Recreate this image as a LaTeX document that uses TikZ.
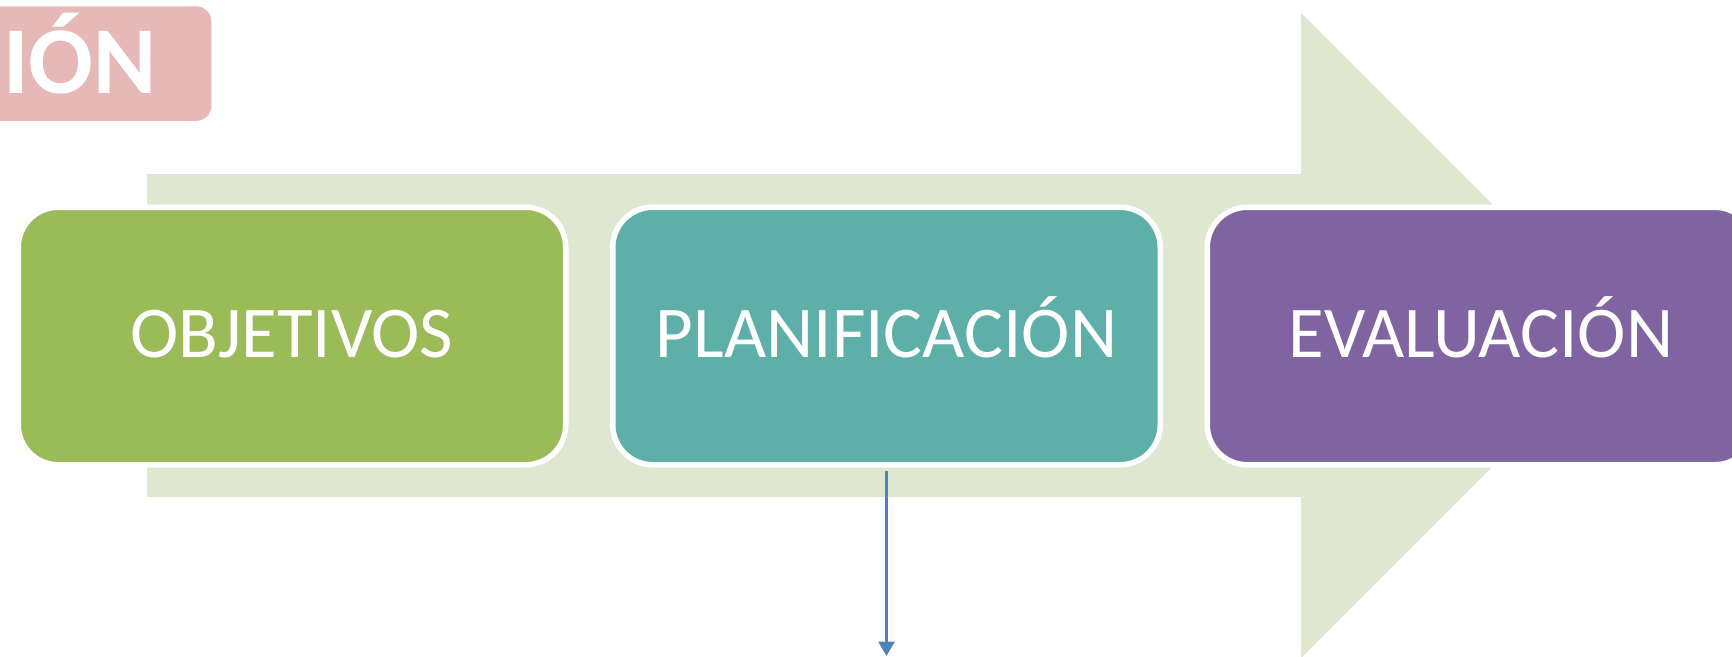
\documentclass[tikz,border=0pt]{standalone}
\usepackage{fontspec}
\setmainfont{Carlito}
\usepackage{tikz}
\usetikzlibrary{positioning,arrows.meta}
\definecolor{arrowbg}{HTML}{DFE7D1}
\definecolor{objgreen}{HTML}{9BBB59}
\definecolor{planteal}{HTML}{5DAFA7}
\definecolor{evalpurple}{HTML}{8064A2}
\definecolor{bannerpink}{HTML}{E6B9B8}
\definecolor{flowblue}{HTML}{4F81BD}

\begin{document}
\begin{tikzpicture}
\tikzstyle{stage}=[rectangle, rounded corners=0.8cm, draw=white, line width=0.11cm, outer sep=0, minimum width=10.95cm, minimum height=5.15cm, text=white, font=\fontsize{41.5pt}{45pt}\selectfont, text height=0.94cm, text depth=0.1cm]
\tikzstyle{banner}=[rectangle, rounded corners=0.3cm, fill=bannerpink, minimum width=5cm, minimum height=2.29cm]
\tikzstyle{bannertext}=[text=white, inner sep=0, font=\fontsize{54.5pt}{58pt}\selectfont\bfseries]
\tikzstyle{connect}=[-{Triangle[width=0.32cm,length=0.29cm]}, line width=0.054cm, draw=flowblue]
\useasboundingbox (0,0) rectangle (34.64,13.12);

	% big arrow behind
	\fill[arrowbg] (2.94,3.18) -- (26.02,3.18) -- (26.02,-0.04) -- (32.47,6.41) -- (26.02,12.86) -- (26.02,9.64) -- (2.94,9.64) -- cycle;

	\node[banner, anchor=north east] (banner) at (4.234,13.0) {};
	\node[bannertext, anchor=base west] (bannertxt) at (0.06,11.25) {IÓN};

	\node[stage, fill=objgreen] (obj) at (5.84,6.4) {OBJETIVOS};
	\node[stage, fill=planteal, right=0.94cm of obj] (plan) {PLANIFICACIÓN};
	\node[stage, fill=evalpurple, right=0.94cm of plan] (eval) {EVALUACIÓN};

	\coordinate (down) at (17.73,0);
	\draw[connect, shorten <=0.125cm] (plan.south) -- (down);

\end{tikzpicture}
\end{document}
